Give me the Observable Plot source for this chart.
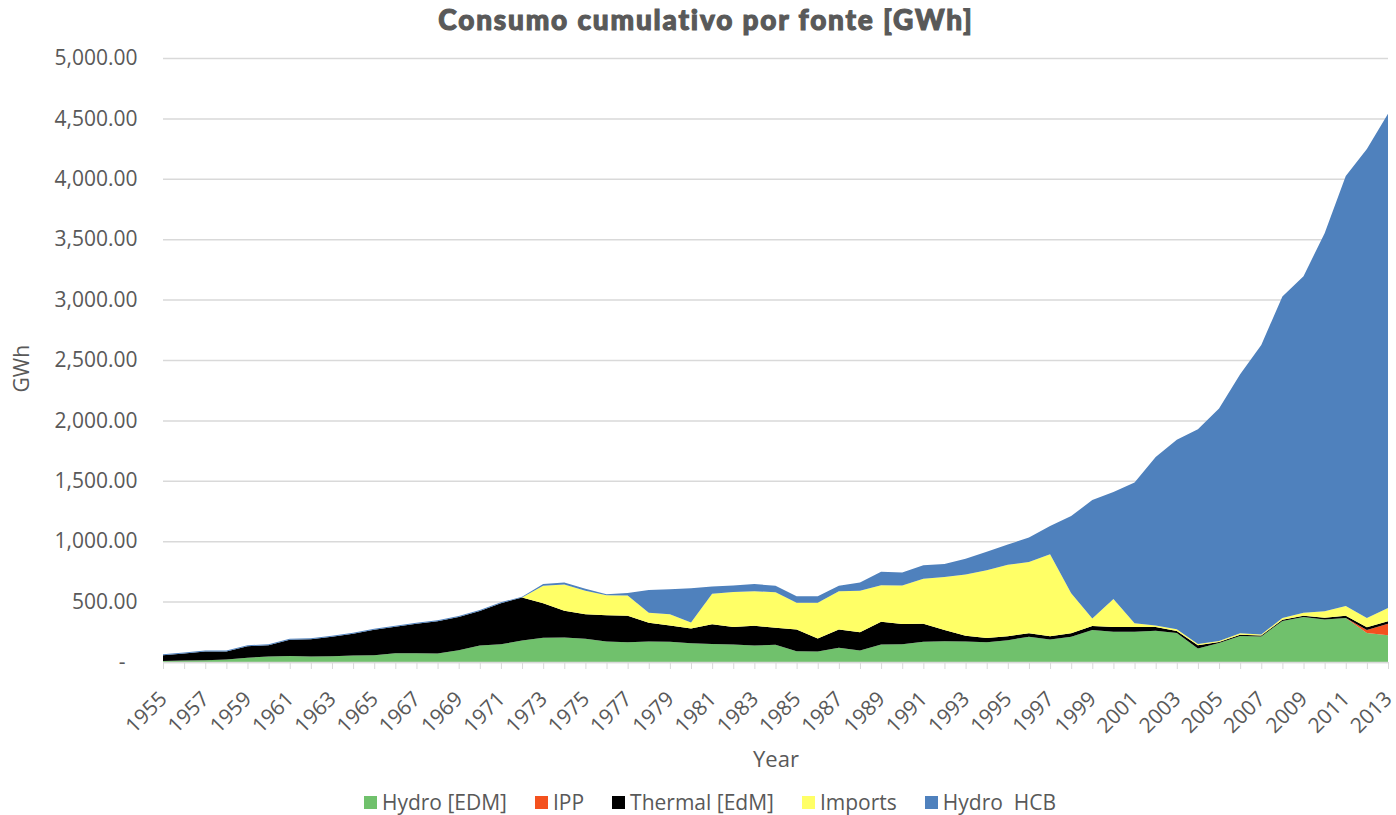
<!DOCTYPE html>
<html>
<head>
<meta charset="utf-8">
<script src="https://cdn.jsdelivr.net/npm/d3@7"></script>
<script src="https://cdn.jsdelivr.net/npm/@observablehq/plot@0.6"></script>
<style>
  html, body { margin: 0; padding: 0; background: #fff; }
  #wrap { position: relative; width: 1396px; height: 815px; overflow: hidden; font-family: "Open Sans", sans-serif; }
  #title { position: absolute; left: 0; top: 2px; width: 1396px; padding-left: 16px; box-sizing: border-box; text-align: center; font-family: Lato, "Open Sans", sans-serif; font-weight: 900; font-size: 28px; letter-spacing: 1.8px; -webkit-text-stroke: 1.1px #595959; color: #595959; line-height: 34px; }
  #chart { position: absolute; left: 0; top: 42px; }
  #legend { position: absolute; left: 0; top: 788px; width: 1396px; display: flex; justify-content: center; font-size: 21px; color: #595959; line-height: 28px; padding-left: 24px; box-sizing: border-box; }
  .item { display: flex; align-items: center; margin: 0 14px; }
  .sw { width: 13px; height: 13px; margin-right: 5px; }
</style>
</head>
<body>
<div id="wrap">
  <div id="title">Consumo cumulativo por fonte [GWh]</div>
  <div id="chart"></div>
  <div id="legend"></div>
</div>
<script>
const years = d3.range(1955, 2014);
const seriesNames = ["Hydro [EDM]", "IPP", "Thermal [EdM]", "Imports", "Hydro  HCB"];
const seriesColors = ["#70c16c", "#f4511e", "#000000", "#ffff66", "#4f81bd"];

const hydroEDM = [8, 12, 15, 20, 36, 45, 50, 46, 48, 53, 56, 72, 72, 70, 97, 137, 147, 178, 200, 203,
  192, 170, 164, 170, 167, 156, 150, 145, 137, 142, 89, 86, 117, 95, 145, 147, 167, 172, 170, 163,
  181, 208, 187, 208, 264, 250, 250, 258, 240, 111, 158, 215, 212, 339, 373, 352, 365, 240, 222];
const ipp = [0, 0, 0, 0, 0, 0, 0, 0, 0, 0, 0, 0, 0, 0, 0, 0, 0, 0, 0, 0,
  0, 0, 0, 0, 0, 0, 0, 0, 0, 0, 0, 0, 0, 0, 0, 0, 0, 0, 0, 0,
  0, 0, 0, 0, 0, 0, 0, 0, 0, 0, 0, 0, 0, 0, 0, 0, 0, 25, 95];
const thermal = [48, 58, 72, 67, 95, 94, 134, 143, 161, 181, 211, 220, 245, 267, 276, 286, 340, 355, 286, 222,
  203, 217, 219, 155, 136, 122, 163, 144, 163, 141, 181, 109, 153, 152, 188, 167, 150, 92, 47, 35,
  33, 29, 27, 29, 33, 39, 40, 32, 16, 28, 7, 10, 7, 10, 9, 15, 18, 22, 20];
const imports = [0, 0, 0, 0, 0, 0, 0, 0, 0, 0, 0, 0, 0, 0, 0, 0, 0, 0, 145, 216,
  194, 166, 167, 83, 92, 50, 253, 291, 286, 295, 221, 296, 316, 342, 303, 319, 372, 439, 508, 562,
  591, 591, 677, 333, 64, 233, 30, 13, 15, 10, 9, 13, 9, 15, 26, 54, 80, 78, 110];
const hydroHCB = [8, 8, 8, 8, 8, 8, 8, 8, 8, 8, 8, 8, 8, 8, 8, 8, 8, 7, 14, 17,
  17, 8, 22, 189, 208, 283, 59, 53, 59, 53, 54, 54, 45, 69, 111, 108, 111, 108, 130, 152,
  167, 202, 234, 638, 980, 886, 1166, 1395, 1569, 1778, 1924, 2145, 2396, 2662, 2786, 3128, 3560, 3881, 4091];

const yTicks = [0, 500, 1000, 1500, 2000, 2500, 3000, 3500, 4000, 4500, 5000];
const xLabelYears = d3.range(1955, 2014, 2);

const seriesValues = [hydroEDM, ipp, thermal, imports, hydroHCB];
const data = [];
seriesNames.forEach((s, k) => years.forEach((yr, i) => data.push({year: yr, series: s, value: seriesValues[k][i]})));

const fmt = d3.format(",.2f");
const chart = Plot.plot({
  width: 1396,
  height: 740,
  marginTop: 16,
  marginBottom: 120,
  marginLeft: 163,
  marginRight: 8,
  style: {fontFamily: "'Open Sans', sans-serif", fontSize: "20px", color: "#595959", background: "#fff"},
  x: {domain: [1955, 2013]},
  y: {domain: [0, 5000]},
  color: {domain: seriesNames, range: seriesColors},
  marks: [
    Plot.gridY(yTicks, {stroke: "#d9d9d9", strokeOpacity: 1, strokeWidth: 1.5}),
    Plot.areaY(data, {x: "year", y: "value", fill: "series", order: seriesNames}),
    Plot.ruleY([0], {stroke: "#d9d9d9", strokeWidth: 1.5}),
    Plot.axisY(yTicks, {tickSize: 0, tickPadding: 26, fontSize: 21, fill: "#595959",
      tickFormat: d => d === 0 ? "-\u2007" : fmt(d), label: null}),
    Plot.axisX(years, {tickSize: 7, stroke: "#d9d9d9", tickFormat: () => "", label: null}),
    Plot.axisX(xLabelYears, {tickSize: 0, tickPadding: 33, tickRotate: -45, fontSize: 21, fill: "#595959",
      tickFormat: d => String(d), label: null}),
    Plot.text(["Year"], {frameAnchor: "bottom", dy: 104, fontSize: 22, fill: "#595959"}),
    Plot.text(["GWh"], {frameAnchor: "left", dx: -141, dy: 32, rotate: -90, fontSize: 21, fill: "#595959"})
  ]
});
document.getElementById("chart").appendChild(chart);

const legend = document.getElementById("legend");
seriesNames.forEach((s, k) => {
  const item = document.createElement("div");
  item.className = "item";
  const sw = document.createElement("span");
  sw.className = "sw";
  sw.style.background = seriesColors[k];
  const t = document.createElement("span");
  t.textContent = s;
  t.style.whiteSpace = "pre";
  item.appendChild(sw);
  item.appendChild(t);
  legend.appendChild(item);
});
</script>
</body>
</html>
